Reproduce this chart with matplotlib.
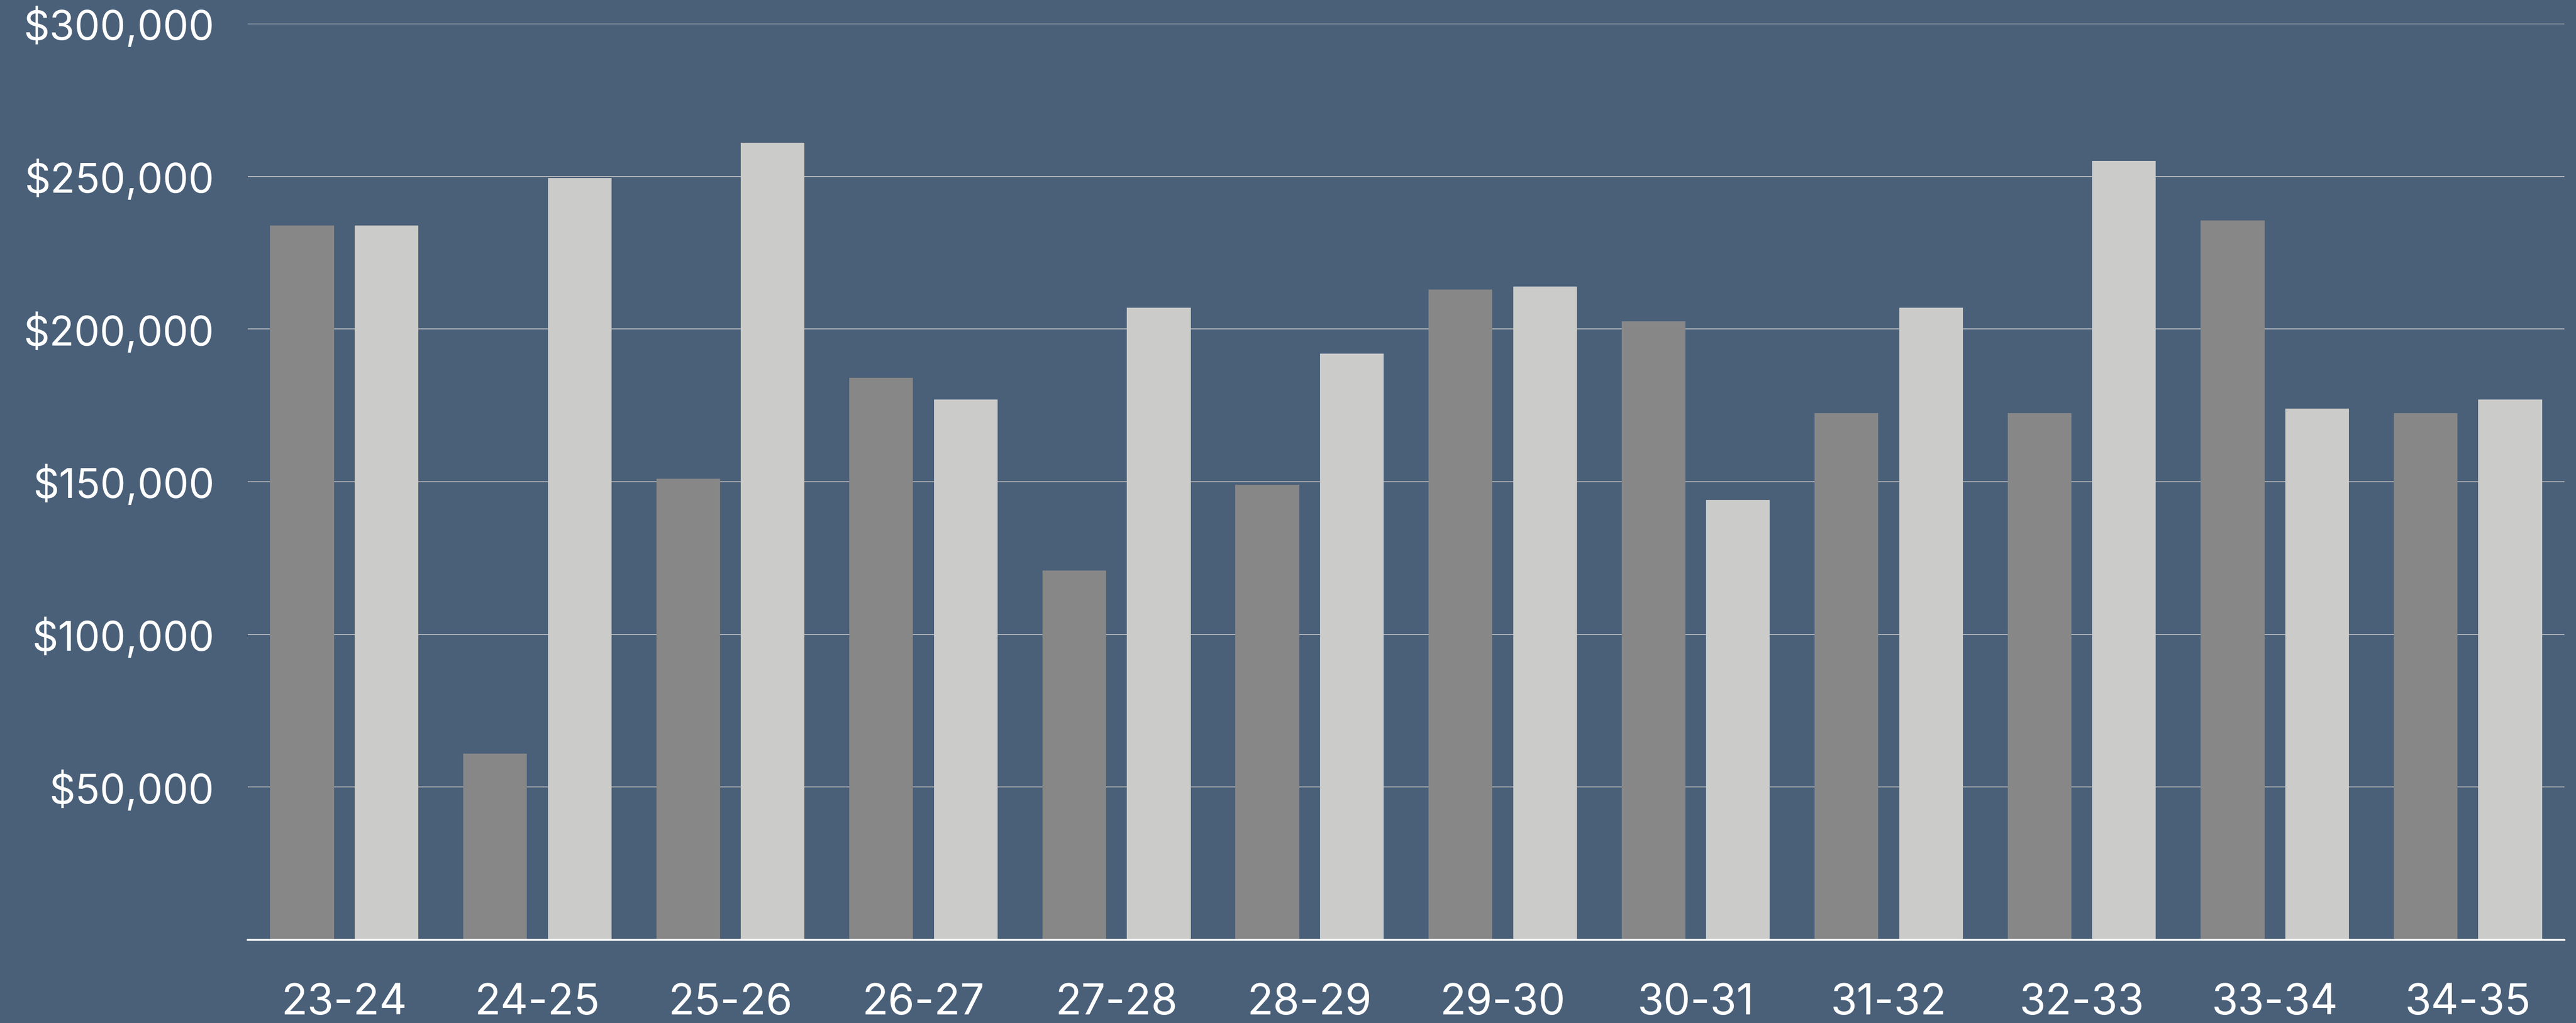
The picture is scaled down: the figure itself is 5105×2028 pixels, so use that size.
import numpy as np
import matplotlib.pyplot as plt
from matplotlib.ticker import FuncFormatter

# fiscal years
years = ['23-24', '24-25', '25-26', '26-27', '27-28', '28-29',
         '29-30', '30-31', '31-32', '32-33', '33-34', '34-35']
# dark series / light series
dark_vals = [234000, 61000, 151000, 184000, 121000, 149000,
             213000, 202500, 172500, 172500, 235500, 172500]
light_vals = [234000, 249500, 261000, 177000, 207000, 192000,
              214000, 144000, 207000, 255000, 174000, 177000]
yticks = [50000, 100000, 150000, 200000, 250000, 300000]

bg = '#4a6079'
plt.rcParams['font.family'] = ['Inter', 'DejaVu Sans']

fig = plt.figure(figsize=(51.05, 20.28), dpi=100, facecolor=bg)
ax = fig.add_axes([0.0962, 0.0814, 0.8993, 0.8954])
ax.set_facecolor(bg)

x = np.arange(len(years))
w = 0.33
ax.bar(x - 0.219, dark_vals, width=w, color='#878787', zorder=3)
ax.bar(x + 0.219, light_vals, width=w, color='#cbcbc9', zorder=3)

ax.set_xlim(-0.5, len(years) - 0.5)
ax.set_ylim(0, 300000)
ax.set_yticks(yticks)
ax.yaxis.set_major_formatter(FuncFormatter(lambda v, p: '${:,.0f}'.format(v)))
ax.set_xticks(x)
ax.set_xticklabels(years)

ax.grid(axis='y', color='#b4b8bd', linewidth=1.4, zorder=1)
for s in ['top', 'right', 'left']:
    ax.spines[s].set_visible(False)
ax.spines['bottom'].set_color('white')
ax.spines['bottom'].set_linewidth(2.7)
ax.spines['bottom'].set_zorder(4)

ax.tick_params(axis='both', length=0, colors='white')
ax.tick_params(axis='y', labelsize=58, pad=48)
ax.tick_params(axis='x', labelsize=61, pad=62)

fig.savefig('out.png', dpi=100, facecolor=bg)
